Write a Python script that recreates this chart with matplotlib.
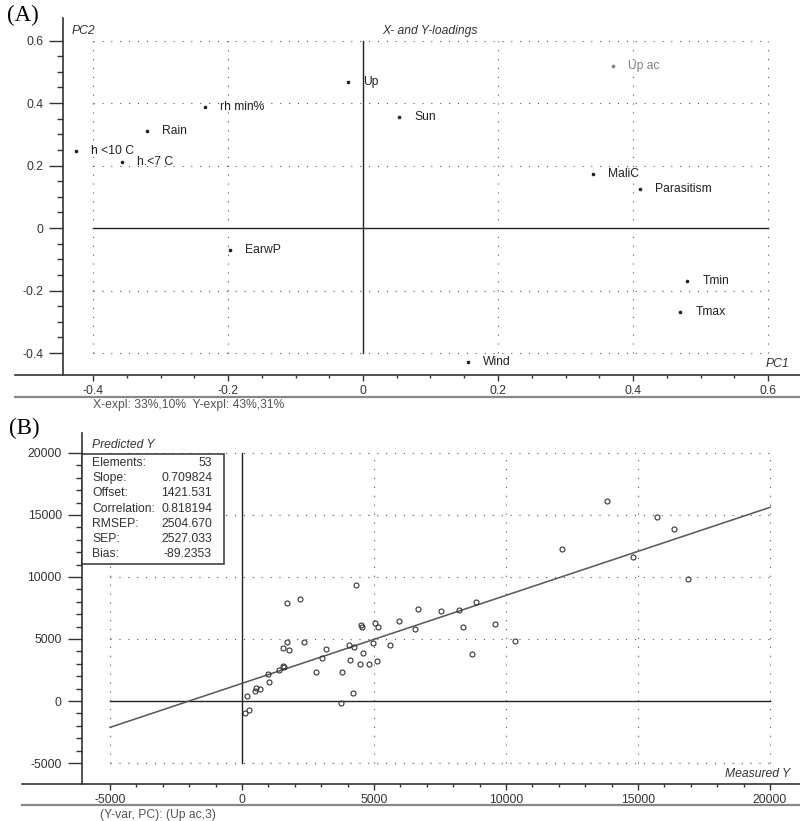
import numpy as np
import matplotlib
matplotlib.use("Agg")
import matplotlib.pyplot as plt
from matplotlib.ticker import FixedLocator
from matplotlib.lines import Line2D
from matplotlib.patches import Rectangle

plt.rcParams['font.family'] = ['Liberation Sans', 'DejaVu Sans']

# ---  (A) X- and Y-loadings -----
loadNames = ["h <10 C", "h.<7 C", "Rain", "rh min%", "Up", "Sun", "Up ac",
             "MaliC", "Parasitism", "EarwP", "Tmin", "Tmax", "Wind"]
loadPC1 = [-0.425, -0.357, -0.320, -0.234, -0.022, 0.054, 0.370,
           0.341, 0.410, -0.197, 0.480, 0.470, 0.155]
loadPC2 = [0.246, 0.211, 0.310, 0.387, 0.467, 0.355, 0.519,
           0.173, 0.125, -0.070, -0.170, -0.268, -0.428]
yVariables = ["Up ac"]

# ---  (B) Predicted vs measured -----
measuredY = [4318, 1717, 2210, 4520, 4545, 5038, 5140, 5950, 1717, 2349,
             1566, 1793, 3170, 4053, 4230, 4975, 5606, 4583, 3030, 4078,
             4470, 4798, 5114, 1566, 1591, 1414, 973, 2815, 3800, 1035,
             518, 694, 505, 202, 4192, 3763, 126, 278,
             13838, 15720, 16352, 12133, 14800, 16883, 6679, 7550, 8231, 8864,
             6565, 8371, 9572, 10353, 8724]
predictedY = [9355, 7877, 8200, 6105, 5940, 6318, 5995, 6450, 4734, 4734,
              4250, 4113, 4194, 4492, 4331, 4653, 4492, 3895, 3444, 3307,
              3008, 3008, 3226, 2823, 2718, 2500, 2153, 2315, 2315, 1508,
              1048, 943, 806, 379, 672, -186, -992, -699,
              16105, 14815, 13847, 12234, 11589, 9839, 7444, 7234, 7363, 7960,
              5775, 5936, 6226, 4815, 3815]

statNames = ["Elements:", "Slope:", "Offset:", "Correlation:", "RMSEP:", "SEP:", "Bias:"]
statValues = ["53", "0.709824", "1421.531", "0.818194", "2504.670", "2527.033", "-89.2353"]
slope = 0.709824
offset = 1421.531

W, H = 800, 821
fig = plt.figure(figsize=(W / 100, H / 100), dpi=100)


def fx(x):
    return x / W


def fy(y):
    return 1 - y / H


textColor = '#333333'
dotStyle = dict(color='#555555', lw=0.8, linestyle=(0, (1, 7)))
tickFont = 8.7


def style_axes(ax, leftPos, xMajor, xMinor, yMajor, yMinor):
    for s in ['top', 'right']:
        ax.spines[s].set_visible(False)
    ax.spines['left'].set_position(('data', leftPos))
    for s in ['left', 'bottom']:
        ax.spines[s].set_color('#333333')
        ax.spines[s].set_linewidth(1.2)
    ax.xaxis.set_major_locator(FixedLocator(xMajor))
    ax.xaxis.set_minor_locator(FixedLocator(xMinor))
    ax.yaxis.set_major_locator(FixedLocator(yMajor))
    ax.yaxis.set_minor_locator(FixedLocator(yMinor))
    ax.tick_params(axis='y', which='major', length=10, width=1, pad=4.5,
                   labelsize=tickFont, labelcolor=textColor, color='#333333')
    ax.tick_params(axis='y', which='minor', length=4.3, width=1, color='#333333')
    ax.tick_params(axis='x', which='major', length=4.5, width=1, pad=2.5,
                   labelsize=tickFont, labelcolor=textColor, color='#333333')
    ax.tick_params(axis='x', which='minor', length=2.5, width=1, color='#333333')
    ax.set_facecolor('none')


# -- panel A --
axA = fig.add_axes([fx(15), fy(375), fx(800) - fx(15), fy(18) - fy(375)])
axA.set_xlim((15 - 363) / 675, (800 - 363) / 675)
axA.set_ylim((228 - 375) / 312.5, (228 - 18) / 312.5)
gridA = [-0.4, -0.2, 0.2, 0.4, 0.6]
style_axes(axA, -0.444, [-0.4, -0.2, 0, 0.2, 0.4, 0.6],
           np.arange(-0.35, 0.6, 0.05), [-0.4, -0.2, 0, 0.2, 0.4, 0.6],
           np.arange(-0.35, 0.65, 0.05))
axA.set_xticklabels(['-0.4', '-0.2', '0', '0.2', '0.4', '0.6'])
axA.set_yticklabels(['-0.4', '-0.2', '0', '0.2', '0.4', '0.6'])
for g in gridA:
    axA.plot([g, g], [-0.4, 0.6], **dotStyle)
    axA.plot([-0.4, 0.6], [g, g], **dotStyle)
axA.plot([0, 0], [-0.4, 0.6], color='#222222', lw=1)
axA.plot([-0.4, 0.6], [0, 0], color='#222222', lw=1)

for name, x, y in zip(loadNames, loadPC1, loadPC2):
    c = '#808080' if name in yVariables else '#222222'
    axA.plot(x, y, marker='o', ms=1.6, color=c, mec=c)
    axA.annotate(name, (x, y), xytext=(11, 0), textcoords='offset points',
                 va='center', ha='left', fontsize=tickFont, color=c)

fig.text(fx(72), fy(31), "PC2", style='italic', fontsize=tickFont, color=textColor, va='center')
fig.text(fx(382), fy(31), "X- and Y-loadings", style='italic', fontsize=tickFont,
         color=textColor, va='center')
fig.text(fx(789), fy(364), "PC1", style='italic', fontsize=tickFont, color=textColor,
         va='center', ha='right')
fig.text(fx(93), fy(405), "X-expl: 33%,10%  Y-expl: 43%,31%", fontsize=tickFont,
         color='#555555', va='center')
fig.add_artist(Line2D([fx(15), fx(800)], [fy(397), fy(397)], color='#888888', lw=1.6))
fig.text(fx(7), fy(15), "(A)", family=['Liberation Serif', 'DejaVu Serif'], fontsize=16.5,
         va='center', ha='left')

# -- panel B --
axB = fig.add_axes([fx(22), fy(784), fx(800) - fx(22), fy(433) - fy(784)])
axB.set_xlim((22 - 242) * 37.879, (800 - 242) * 37.879)
axB.set_ylim((701 - 784) * 80.645, (701 - 433) * 80.645)
gridB = [-5000, 5000, 10000, 15000, 20000]
majB = [-5000, 0, 5000, 10000, 15000, 20000]
style_axes(axB, -6061, majB, np.arange(-4000, 20000, 1000), majB,
           np.arange(-4000, 20000, 1000))
axB.set_xticklabels([str(v) for v in majB])
axB.set_yticklabels([str(v) for v in majB])
for g in gridB:
    axB.plot([g, g], [-5000, 20000], **dotStyle)
    axB.plot([-5000, 20000], [g, g], **dotStyle)
axB.plot([0, 0], [-5000, 20000], color='#222222', lw=1)
axB.plot([-5000, 20000], [0, 0], color='#222222', lw=1)

lineX = np.array([-5000, 20000])
axB.plot(lineX, slope * lineX + offset, color='#555555', lw=1.1)
axB.plot(measuredY, predictedY, linestyle='none', marker='o', ms=3.6, mfc='none',
         mec='#333333', mew=0.8)

box = Rectangle((fx(82), fy(564)), fx(224) - fx(82), fy(454) - fy(564),
                transform=fig.transFigure, facecolor='white', edgecolor='#333333',
                lw=1.1, zorder=5)
fig.add_artist(box)
for i, (n, v) in enumerate(zip(statNames, statValues)):
    yy = fy(463 + i * 15.2)
    fig.text(fx(92), yy, n, fontsize=tickFont, color=textColor, va='center', zorder=6)
    fig.text(fx(212), yy, v, fontsize=tickFont, color=textColor, va='center',
             ha='right', zorder=6)

fig.text(fx(92), fy(445), "Predicted Y", style='italic', fontsize=tickFont,
         color=textColor, va='center')
fig.text(fx(790), fy(774), "Measured Y", style='italic', fontsize=tickFont,
         color=textColor, va='center', ha='right')
fig.text(fx(100), fy(815), "(Y-var, PC): (Up ac,3)", fontsize=tickFont,
         color='#555555', va='center')
fig.add_artist(Line2D([fx(22), fx(800)], [fy(805), fy(805)], color='#888888', lw=1.6))
fig.text(fx(9), fy(428), "(B)", family=['Liberation Serif', 'DejaVu Serif'], fontsize=16.5,
         va='center', ha='left')

fig.savefig("out.png", dpi=100)
